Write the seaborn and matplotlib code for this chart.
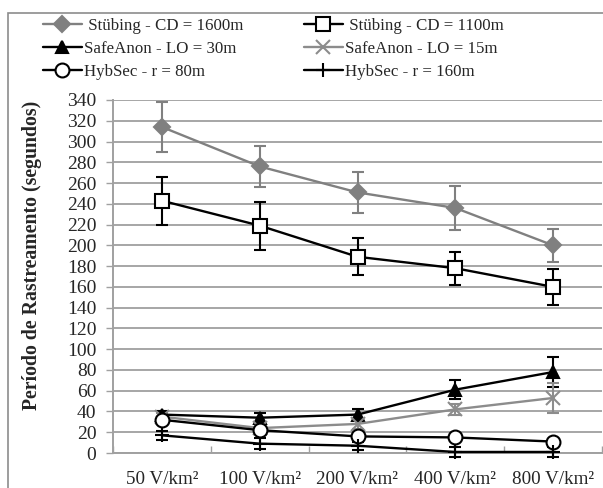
import matplotlib
matplotlib.use("Agg")
import matplotlib.pyplot as plt
from matplotlib.patches import Rectangle
import numpy as np
import seaborn as sns

sns.set_theme(style="white")
plt.rcParams["font.family"] = ["Liberation Serif", "DejaVu Serif"]

densities = ["50 V/km²", "100 V/km²", "200 V/km²", "400 V/km²", "800 V/km²"]

stubing_1600 = [314, 276, 251, 236, 200]
stubing_1600_err = [24, 20, 20, 21, 16]
stubing_1100 = [243, 219, 189, 178, 160]
stubing_1100_err = [23, 23, 18, 16, 17]
safeanon_30 = [37, 34, 37, 61, 78]
safeanon_30_err = [3, 5, 5, 9, 14]
safeanon_15 = [35, 24, 28, 42, 53]
safeanon_15_err = [4, 4, 5, 5, 14]
hybsec_80 = [32, 22, 16, 15, 11]
hybsec_80_err = [2, 2, 2, 2, 2]
hybsec_160 = [17, 9, 7, 1, 1]
hybsec_160_err = [4, 5, 4, 5, 5]

series = [
    (" Stübing - CD = 1600m", stubing_1600, stubing_1600_err,
     dict(color="#808080", marker="D", mfc="#808080", mec="#808080", ms=8.5)),
    (" Stübing - CD = 1100m", stubing_1100, stubing_1100_err,
     dict(color="black", marker="s", mfc="white", mec="black", ms=10)),
    ("SafeAnon - LO = 30m", safeanon_30, safeanon_30_err,
     dict(color="black", marker="^", mfc="black", mec="black", ms=8.5)),
    ("SafeAnon - LO = 15m", safeanon_15, safeanon_15_err,
     dict(color="#8c8c8c", marker="x", mfc="#8c8c8c", mec="#8c8c8c", ms=9.5)),
    ("HybSec - r = 80m", hybsec_80, hybsec_80_err,
     dict(color="black", marker="o", mfc="white", mec="black", ms=10)),
    ("HybSec - r = 160m", hybsec_160, hybsec_160_err,
     dict(color="black", marker="+", mfc="black", mec="black", ms=10)),
]

fig = plt.figure(figsize=(6.03, 4.88), dpi=100)
ax = fig.add_axes([113 / 603, 1 - 453 / 488, 489 / 603, 353 / 488])

pos = np.arange(len(densities))
handles = {}
for label, vals, err, st in series:
    ax.errorbar(pos, vals, yerr=err, fmt="none", ecolor=st["color"],
                elinewidth=1.5, capsize=4, capthick=1.5, zorder=3, clip_on=False)
    sns.lineplot(x=pos, y=vals, ax=ax, color=st["color"], linewidth=1.7,
                 marker=st["marker"], markersize=st["ms"],
                 markerfacecolor=st["mfc"], markeredgecolor=st["mec"],
                 markeredgewidth=1.5, zorder=4, clip_on=False)
    handles[label] = ax.lines[-1]

ax.set_xlim(-0.5, len(densities) - 0.5)
ax.set_ylim(0, 340)
ax.set_yticks(np.arange(0, 341, 20))
ax.set_xticks(pos)
ax.set_xticklabels(densities, fontsize=13.8)
ax.set_xticks(np.arange(-0.5, len(densities), 1), minor=True)
ax.tick_params(axis="y", labelsize=14, length=5, width=1, color="#a0a0a0",
               direction="out", left=True, pad=7)
ax.tick_params(axis="x", which="major", length=0, pad=13)
ax.tick_params(axis="x", which="minor", length=5, width=1, color="#a0a0a0",
               direction="in", bottom=True)
ax.grid(axis="y", color="#a6a6a6", linewidth=1.4)
ax.set_axisbelow(True)
for s in ["top", "right"]:
    ax.spines[s].set_visible(False)
for s in ["left", "bottom"]:
    ax.spines[s].set_color("#a0a0a0")
    ax.spines[s].set_linewidth(1.4)
ax.set_xlabel("")
ax.set_ylabel("Período de Rastreamento (segundos)", fontsize=14.2,
              fontweight="bold")
ax.yaxis.set_label_coords(-0.146, 0.561)

order = [" Stübing - CD = 1600m", "SafeAnon - LO = 30m", "HybSec - r = 80m",
         " Stübing - CD = 1100m", "SafeAnon - LO = 15m", "HybSec - r = 160m"]
fig.legend([handles[k] for k in order], order, ncol=2, frameon=False,
           loc="upper left", bbox_to_anchor=(36 / 603, 1 - 11 / 488),
           fontsize=12.2, handlelength=2.3, handletextpad=0.15,
           columnspacing=3.55, labelspacing=0.42, borderaxespad=0)

fig.patches.append(Rectangle((8 / 603, -0.05), 1.0, 1 - 13 / 488 + 0.05,
                             transform=fig.transFigure, fill=False,
                             edgecolor="#8c8c8c", linewidth=1.2))

fig.savefig("out.png", dpi=100)
